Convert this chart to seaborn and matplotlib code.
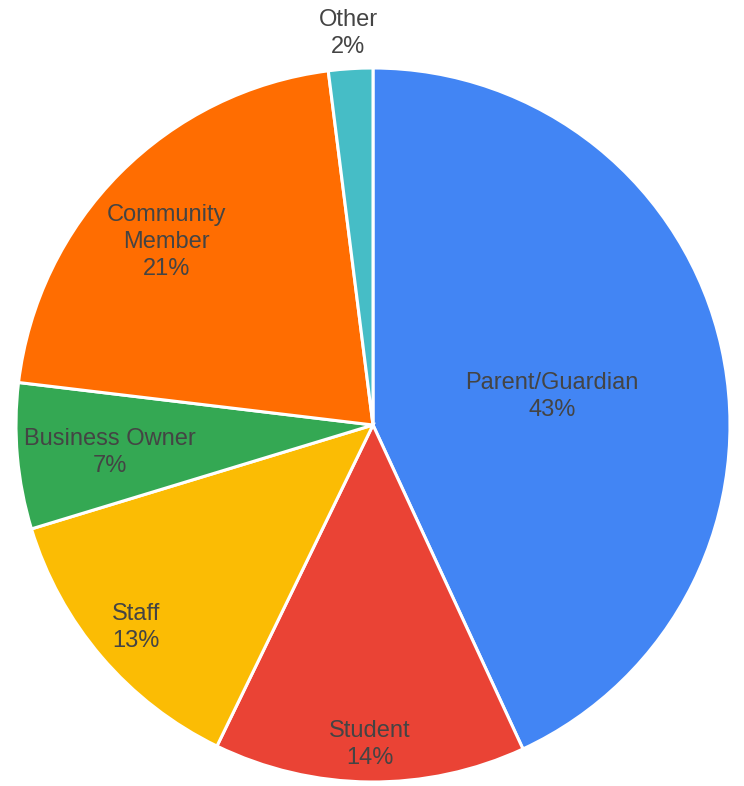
import matplotlib
matplotlib.use("Agg")
import matplotlib.pyplot as plt
import seaborn as sns
import numpy as np

categories = ["Parent/Guardian", "Student", "Staff", "Business Owner", "Community Member", "Other"]
display_labels = ["Parent/Guardian", "Student", "Staff", "Business Owner", "Community\nMember", "Other"]
values = [43.1, 14.1, 13.1, 6.6, 21.1, 2.0]
colors = ["#4285F4", "#EA4335", "#FBBC04", "#34A853", "#FF6D01", "#46BDC6"]
label_dist = [0.508, 0.896, 0.873, 0.741, 0.774, 1.10]
label_ang_offset = [-3.5, 0.0, 0.0, 1.0, 3.3, 0.0]

sns.set_theme(style="white")
plt.rcParams['font.family'] = ['Liberation Sans', 'DejaVu Sans']

fig = plt.figure(figsize=(7.44, 7.86), dpi=100)
cx, cy, r = 373, 425, 357
W, H = 744, 786
ax = fig.add_axes([(cx - r) / W, (H - cy - r) / H, 2 * r / W, 2 * r / H])
palette = sns.color_palette(colors)
wedges, _ = ax.pie(values, colors=palette, startangle=90, counterclock=False,
                   radius=1, wedgeprops=dict(edgecolor="white", linewidth=2.2))
ax.set_xlim(-1, 1)
ax.set_ylim(-1, 1)
ax.set_aspect("equal")
ax.axis("off")

total = sum(values)
for w, lab, v, d, off in zip(wedges, display_labels, values, label_dist, label_ang_offset):
    ang = np.deg2rad((w.theta1 + w.theta2) / 2 + off)
    x, y = d * np.cos(ang), d * np.sin(ang)
    pct = round(v / total * 100)
    ax.text(x, y, f"{lab}\n{pct}%", ha="center", va="center", fontsize=17,
            color="#444444", linespacing=1.3, clip_on=False)

fig.savefig("out.png", dpi=100)
